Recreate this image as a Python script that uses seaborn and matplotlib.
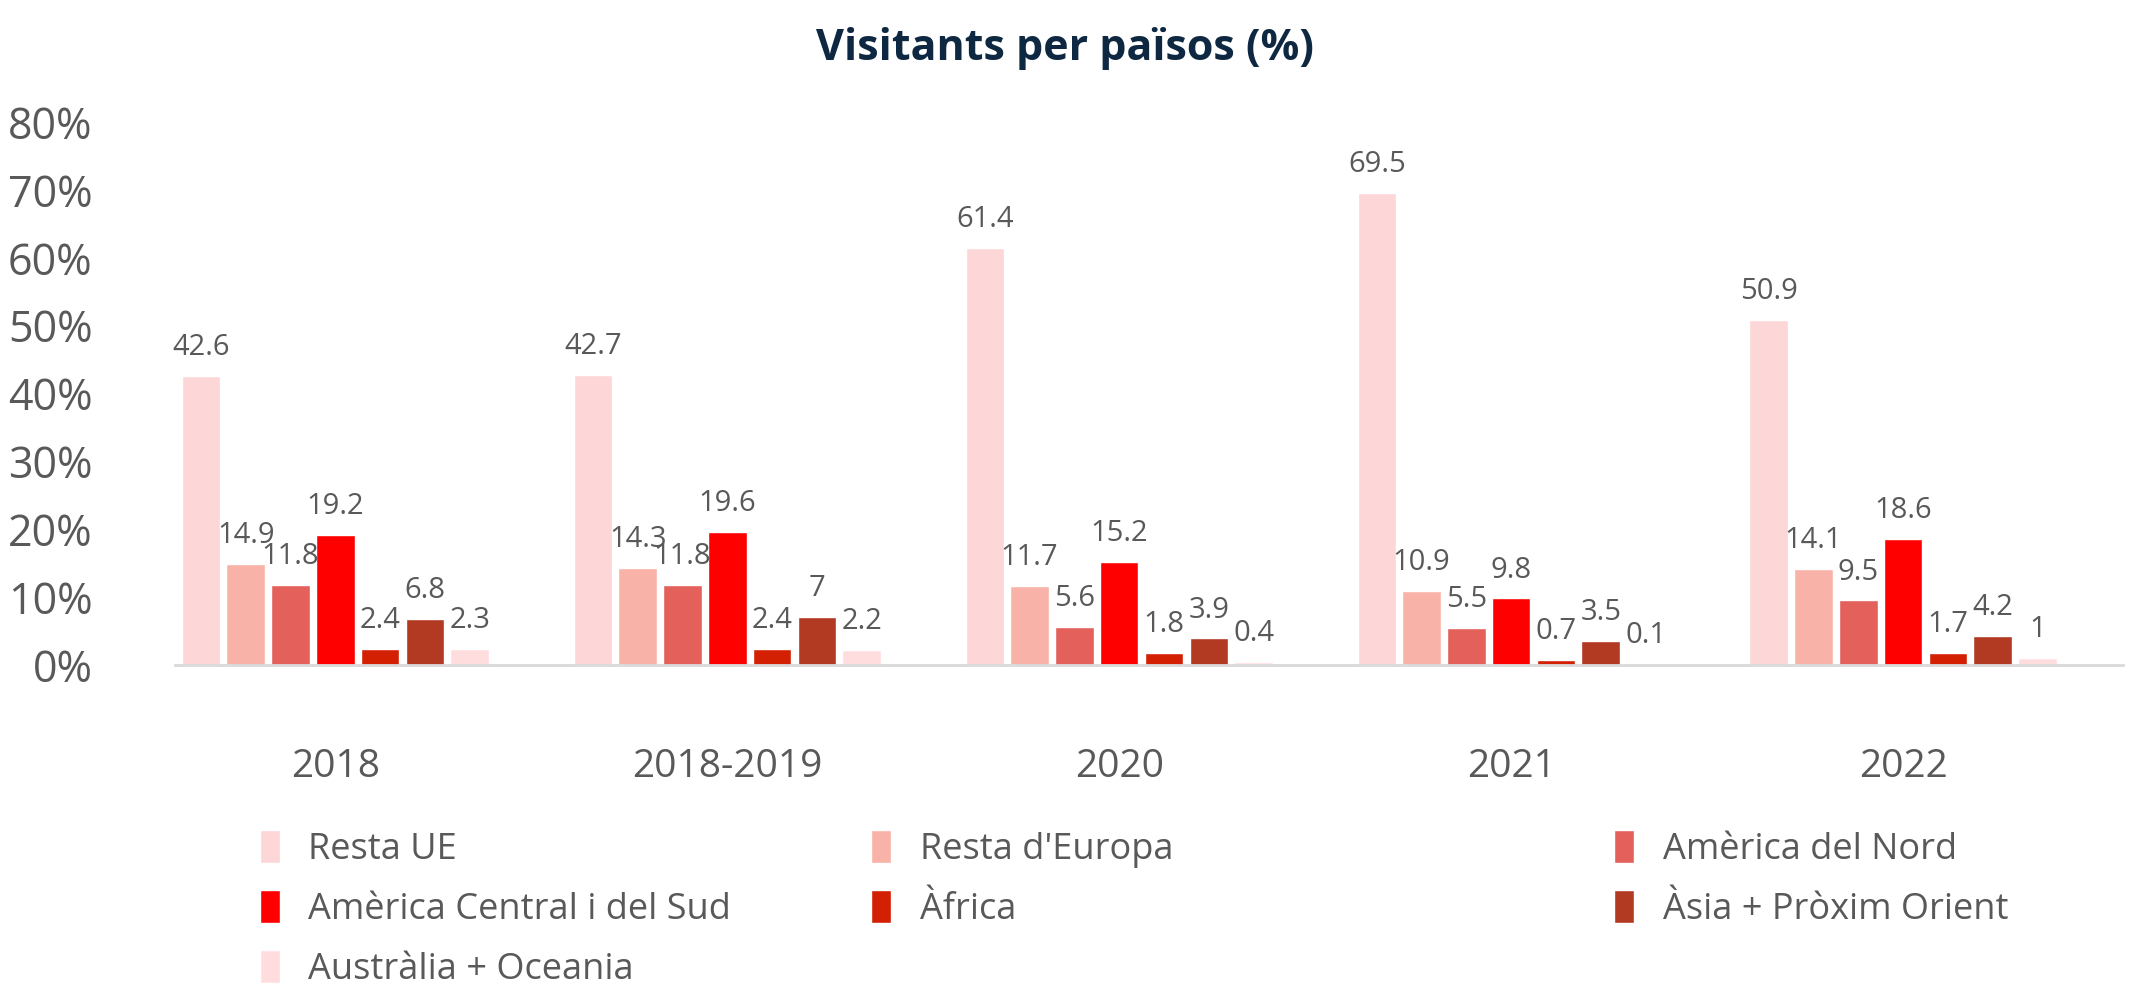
import pandas as pd
import matplotlib.pyplot as plt
import matplotlib.ticker as mticker
import seaborn as sns

# ── Dades ─────────────────────────────────────────────────────────────────────
periodes = ["2018", "2018-2019", "2020", "2021", "2022"]
regions = [
    "Resta UE", "Resta d'Europa", "Amèrica del Nord",
    "Amèrica Central i del Sud", "Àfrica", "Àsia + Pròxim Orient",
    "Austràlia + Oceania",
]
resta_ue        = [42.6, 42.7, 61.4, 69.5, 50.9]
resta_europa    = [14.9, 14.3, 11.7, 10.9, 14.1]
america_nord    = [11.8, 11.8, 5.6, 5.5, 9.5]
america_sud     = [19.2, 19.6, 15.2, 9.8, 18.6]
africa          = [2.4, 2.4, 1.8, 0.7, 1.7]
asia            = [6.8, 7, 3.9, 3.5, 4.2]
australia       = [2.3, 2.2, 0.4, 0.1, 1]

colors = ["#FDD7D8", "#F9B2A7", "#E3615A", "#FF0000", "#D31F02", "#B23A23", "#FFDDDF"]

series = [resta_ue, resta_europa, america_nord, america_sud, africa, asia, australia]
df = pd.DataFrame(
    [(p, r, v) for r, vals in zip(regions, series) for p, v in zip(periodes, vals)],
    columns=["periode", "regio", "valor"],
)

# ── Estil ─────────────────────────────────────────────────────────────────────
sns.set_style("white")
plt.rcParams["font.family"] = ["Open Sans", "DejaVu Sans"]
GRIS = "#595959"

fig = plt.figure(figsize=(21.29, 9.85), dpi=100)
ax = fig.add_axes([0.082, 0.325, 0.915, 0.551])

sns.barplot(
    data=df, x="periode", y="valor", hue="regio", order=periodes,
    hue_order=regions, palette=colors, width=0.8, gap=0.14,
    saturation=1, ax=ax,
)

for cont in ax.containers:
    ax.bar_label(cont, labels=[f"{v:g}" for v in cont.datavalues],
                 padding=10, fontsize=21, color=GRIS)

ax.set_ylim(0, 80)
ax.set_xlim(-0.41, 4.56)
ax.yaxis.set_major_locator(mticker.MultipleLocator(10))
ax.yaxis.set_major_formatter(mticker.FuncFormatter(lambda x, _: f"{x:.0f}%"))
ax.tick_params(axis="y", labelsize=31, labelcolor=GRIS, length=0, pad=59)
ax.tick_params(axis="x", labelsize=28, labelcolor=GRIS, length=0, pad=60)
ax.set_xlabel("")
ax.set_ylabel("")
for s in ["top", "right", "left"]:
    ax.spines[s].set_visible(False)
ax.spines["bottom"].set_color("#D9D9D9")
ax.spines["bottom"].set_linewidth(2)

fig.suptitle("Visitants per països (%)", fontsize=31, fontweight="bold",
             color="#0E2841", x=0.5, y=0.951, va="center")

# ── Llegenda en tres columnes ─────────────────────────────────────────────────
handles, labels = ax.get_legend_handles_labels()
ax.get_legend().remove()
cols = [[0, 3, 6], [1, 4], [2, 5]]
xpos = [0.122, 0.409, 0.758]
for idx, x in zip(cols, xpos):
    fig.legend([handles[i] for i in idx], [labels[i] for i in idx],
               loc="upper left", bbox_to_anchor=(x, 0.157),
               bbox_transform=fig.transFigure, frameon=False,
               fontsize=26, labelcolor=GRIS, handlelength=0.55,
               handleheight=1.0, handletextpad=0.8, labelspacing=0.62,
               borderaxespad=0, borderpad=0)

plt.savefig("out.png", dpi=100)
